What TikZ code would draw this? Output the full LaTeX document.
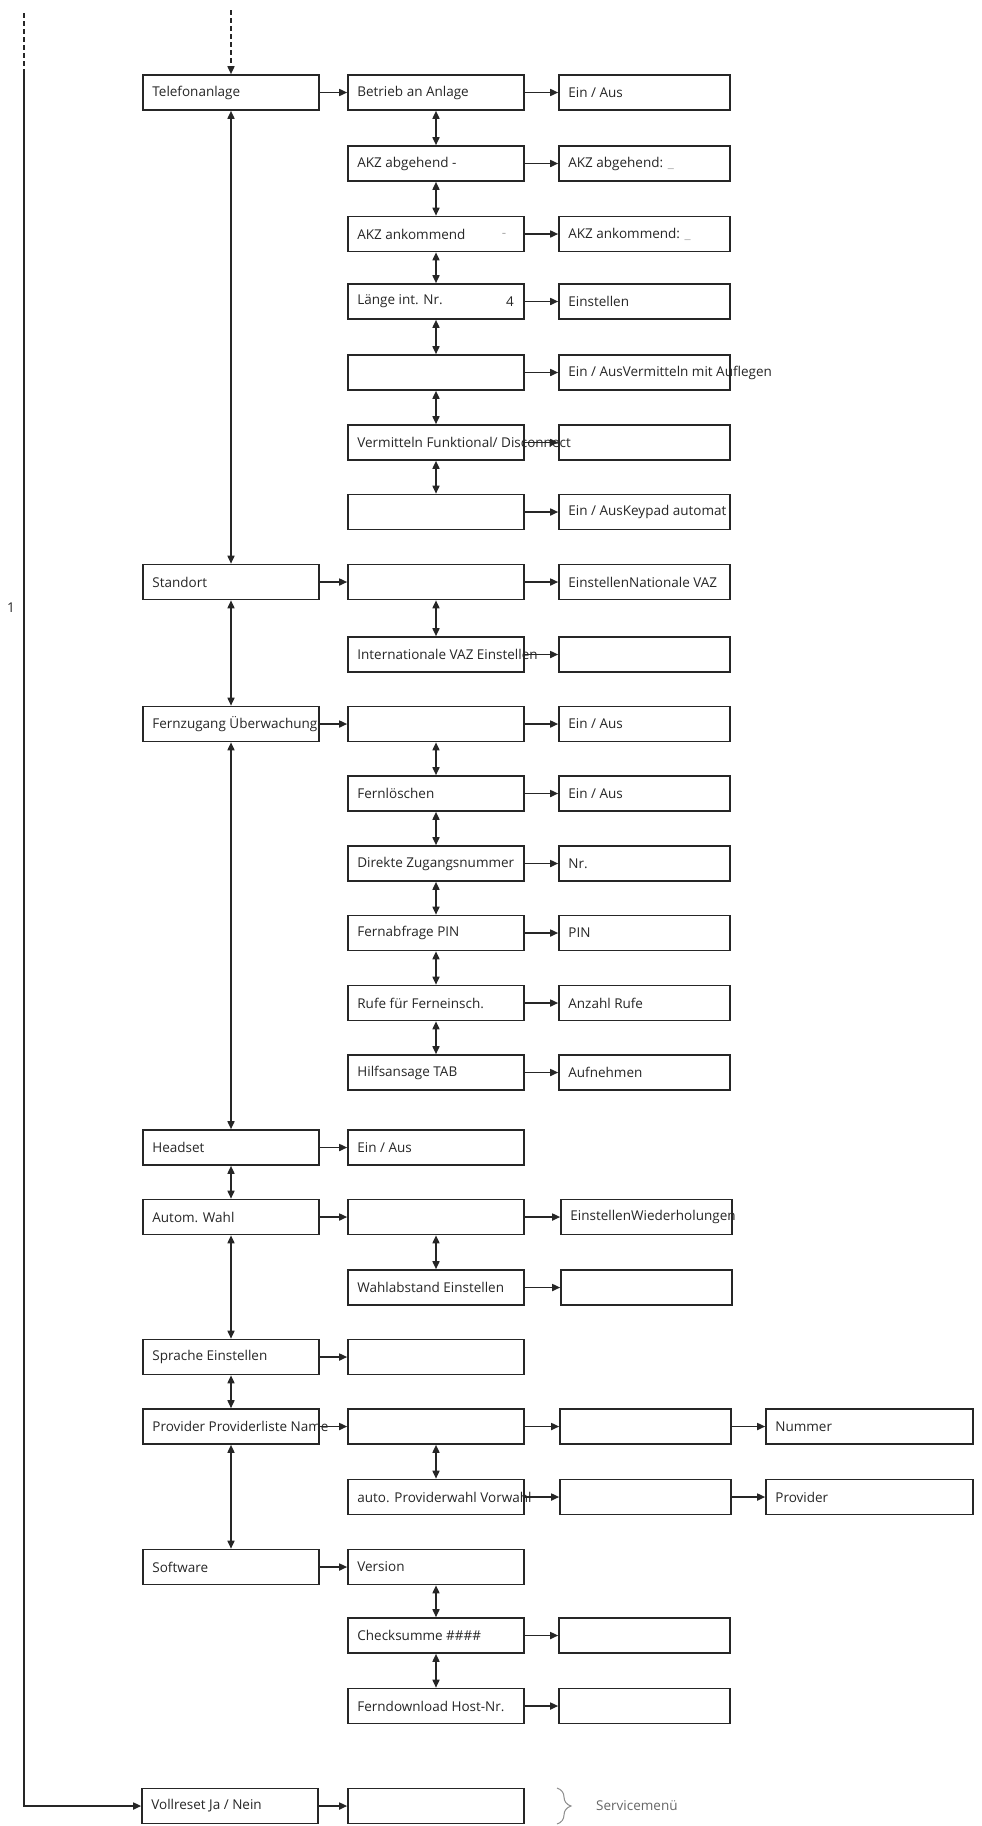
\documentclass[tikz,border=0pt]{standalone}
\usepackage{fontspec}
\setmainfont{Open Sans}
\usetikzlibrary{arrows.meta,decorations.pathreplacing}
\newcommand\mybox[5]{\node[#1, label={[txt,anchor=west,xshift=10pt]west:{#5}}] (#2) at (#3,#4) {};}
\begin{document}
\begin{tikzpicture}[x=1pt,y=-1pt,
  box/.style={draw=black!85, line width=1.6pt, minimum height=35pt, inner sep=0pt, fill=none},
  cA/.style={box, minimum width=176pt},
  cB/.style={box, minimum width=176pt},
  cC/.style={box, minimum width=171pt},
  cD/.style={box, minimum width=207pt},
  txt/.style={font=\fontsize{13.5}{16}\selectfont, text=black!85, inner sep=0pt},
  faint/.style={font=\fontsize{13.5}{16}\selectfont, text=black!35, inner sep=0pt},
  arr/.style={line width=1.6pt, draw=black!85, -{Triangle[length=8pt,width=7pt]}},
  darr/.style={line width=1.6pt, draw=black!85, {Triangle[length=8pt,width=7pt]}-{Triangle[length=8pt,width=7pt]}},
  dline/.style={line width=1.6pt, draw=black!85, dash pattern=on 5pt off 3pt}
]
\useasboundingbox (0,0) rectangle (982,1826);

% ---------- column 1 ----------
\mybox{cA}{a0}{231}{92.5}{Telefonanlage}
\mybox{cA}{a7}{231}{582}{Standort}
\mybox{cA}{a9}{231}{724}{Fernzugang Überwachung}
\mybox{cA}{a15}{231}{1147.5}{Headset}
\mybox{cA}{a16}{231}{1217}{Autom. Wahl}
\mybox{cA}{a18}{231}{1357}{Sprache Einstellen}
\mybox{cA}{a19}{231}{1426.5}{Provider Providerliste Name}
\mybox{cA}{a21}{231}{1567}{Software}
\mybox{cA}{a24}{230}{1806}{Vollreset Ja / Nein}

% ---------- column 2 ----------
\mybox{cB}{b0}{436}{92.5}{Betrieb an Anlage}
\mybox{cB}{b1}{436}{163.5}{AKZ abgehend -}
\mybox{cB}{b2}{436}{234}{AKZ ankommend}
\mybox{cB}{b3}{436}{301.5}{Länge int. Nr.}
\mybox{cB}{b4}{436}{372.5}{}
\mybox{cB}{b5}{436}{442.5}{Vermitteln Funktional/ Disconnect}
\mybox{cB}{b6}{436}{512}{}
\mybox{cB}{b7}{436}{582}{}
\mybox{cB}{b8}{436}{654.5}{Internationale VAZ Einstellen}
\mybox{cB}{b9}{436}{724}{}
\mybox{cB}{b10}{436}{793.5}{Fernlöschen}
\mybox{cB}{b11}{436}{863.5}{Direkte Zugangsnummer}
\mybox{cB}{b12}{436}{933}{Fernabfrage PIN}
\mybox{cB}{b13}{436}{1003}{Rufe für Ferneinsch.}
\mybox{cB}{b14}{436}{1072.5}{Hilfsansage TAB}
\mybox{cB}{b15}{436}{1147.5}{Ein / Aus}
\mybox{cB}{b16}{436}{1217}{}
\mybox{cB}{b17}{436}{1287.5}{Wahlabstand Einstellen}
\mybox{cB}{b18}{436}{1357}{}
\mybox{cB}{b19}{436}{1426.5}{}
\mybox{cB}{b20}{436}{1497}{auto. Providerwahl Vorwahl}
\mybox{cB}{b21}{436}{1567}{Version}
\mybox{cB}{b22}{436}{1635.5}{Checksumme \#\#\#\#}
\mybox{cB}{b23}{436}{1706}{Ferndownload Host-Nr.}
\mybox{cB}{b24}{436}{1806}{}

\node[faint] (b2x) at (504,235) {-};
\node[txt] (b3x) at (510,301.5) {4};

% ---------- column 3 ----------
\mybox{cC}{c0}{644.5}{92.5}{Ein / Aus}
\mybox{cC}{c1}{644.5}{163.5}{AKZ abgehend: \textcolor{black!30}{\_}}
\mybox{cC}{c2}{644.5}{234}{AKZ ankommend: \textcolor{black!30}{\_}}
\mybox{cC}{c3}{644.5}{301.5}{Einstellen}
\mybox{cC}{c4}{644.5}{372.5}{Ein / AusVermitteln mit Auflegen}
\mybox{cC}{c5}{644.5}{442.5}{}
\mybox{cC}{c6}{644.5}{512}{Ein / AusKeypad automat}
\mybox{cC}{c7}{644.5}{582}{EinstellenNationale VAZ}
\mybox{cC}{c8}{644.5}{654.5}{}
\mybox{cC}{c9}{644.5}{724}{Ein / Aus}
\mybox{cC}{c10}{644.5}{793.5}{Ein / Aus}
\mybox{cC}{c11}{644.5}{863.5}{Nr.}
\mybox{cC}{c12}{644.5}{933}{PIN}
\mybox{cC}{c13}{644.5}{1003}{Anzahl Rufe}
\mybox{cC}{c14}{644.5}{1072.5}{Aufnehmen}
\mybox{cC}{c16}{646.5}{1217}{EinstellenWiederholungen}
\mybox{cC}{c17}{646.5}{1287.5}{}
\mybox{cC}{c19}{645.5}{1426.5}{}
\mybox{cC}{c20}{645.5}{1497}{}
\mybox{cC}{c22}{644.5}{1635.5}{}
\mybox{cC}{c23}{644.5}{1706}{}

% ---------- column 4 ----------
\mybox{cD}{d19}{869.5}{1426.5}{Nummer}
\mybox{cD}{d20}{869.5}{1497}{Provider}

% ---------- horizontal arrows ----------
\foreach \i in {0,7,9,15,16,18,19,21,24} \draw[arr] (a\i.east) -- (b\i.west);
\foreach \i in {0,1,2,3,4,5,6,7,8,9,10,11,12,13,14,16,17,19,20,22,23} \draw[arr] (b\i.east) -- (c\i.west);
\foreach \i in {19,20} \draw[arr] (c\i.east) -- (d\i.west);

% ---------- vertical double arrows, column 2 ----------
\foreach \p/\q in {0/1,1/2,2/3,3/4,4/5,5/6,7/8,9/10,10/11,11/12,12/13,13/14,16/17,19/20,21/22,22/23}
  \draw[darr] (b\p.south) -- (b\q.north);

% ---------- vertical double arrows, column 1 ----------
\foreach \p/\q in {0/7,7/9,9/15,15/16,16/18,18/19,19/21}
  \draw[darr] (a\p.south) -- (a\q.north);

% ---------- entry arrow and return line ----------
\coordinate (top) at (231,10);
\draw[dline, -{Triangle[length=8pt,width=7pt]}] (top) -- (a0.north);
\coordinate (lt) at (24,13);
\coordinate (lm) at (24,70);
\draw[dline] (lt) -- (lm);
\draw[arr] (lm) |- (a24.west);
\node[txt] (one) at (11,608) {1};

% ---------- service menu brace ----------
\coordinate (bt) at (557,1788);
\coordinate (bb) at (557,1824);
\draw[decorate, decoration={brace, amplitude=14pt, aspect=0.5}, draw=black!45, line width=1pt] (bt) -- (bb);
\node[txt, text=black!60, anchor=west] (svc) at (596,1806) {Servicemenü};
\end{tikzpicture}
\end{document}
